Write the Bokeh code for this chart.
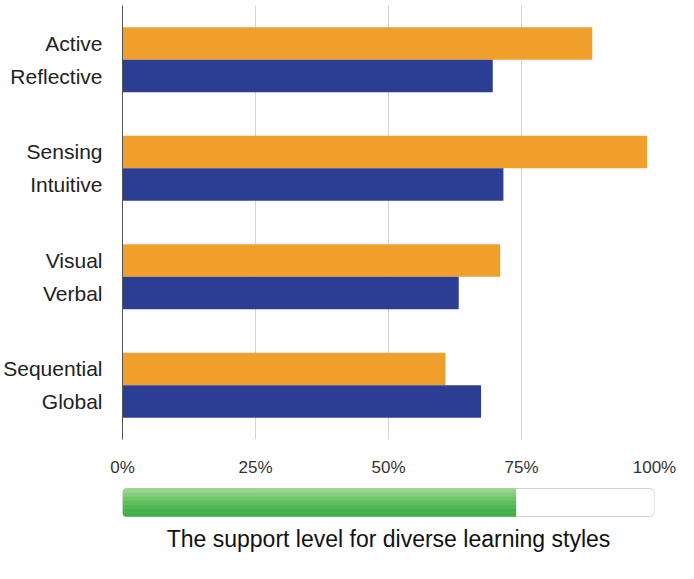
from bokeh.plotting import figure
from bokeh.models import Range1d, FixedTicker, Label
from bokeh.layouts import column
from bokeh.embed import file_html
from bokeh.resources import INLINE

# ---- data ----
pair_first_labels = ["Active", "Sensing", "Visual", "Sequential"]
pair_first_values = [88.3, 98.6, 71.0, 60.7]
pair_second_labels = ["Reflective", "Intuitive", "Verbal", "Global"]
pair_second_values = [69.6, 71.6, 63.2, 67.4]
x_ticks = [0, 25, 50, 75, 100]
x_tick_labels = ["0%", "25%", "50%", "75%", "100%"]
support_level = 74
title_text = "The support level for diverse learning styles"

ORANGE = "#F09E2C"
BLUE = "#2C3E94"
FONT = "Liberation Sans"

W = 676
LEFT, RIGHT = 119, 22
H1, TOP1, BOT1 = 479, 5, 40
H2 = 74

n = len(pair_first_labels)
bar_h = 0.3
y_first = [i + 0.5 - bar_h / 2 for i in range(n)]
y_second = [i + 0.5 + bar_h / 2 for i in range(n)]

p = figure(width=W, height=H1,
           min_border_left=LEFT, min_border_right=RIGHT,
           min_border_top=TOP1, min_border_bottom=BOT1,
           x_range=Range1d(0, 100), y_range=Range1d(n, 0),
           output_backend="svg", toolbar_location=None)
p.outline_line_color = None
p.background_fill_color = "white"
p.border_fill_color = "white"

p.hbar(y=y_first, right=pair_first_values, left=0, height=bar_h,
       fill_color=ORANGE, line_color=None)
p.hbar(y=y_second, right=pair_second_values, left=0, height=bar_h,
       fill_color=BLUE, line_color=None)

# x axis
p.xaxis.ticker = FixedTicker(ticks=x_ticks)
p.xaxis.major_label_overrides = {t: l for t, l in zip(x_ticks, x_tick_labels)}
p.xaxis.axis_line_color = None
p.xaxis.major_tick_line_color = None
p.xaxis.minor_tick_line_color = None
p.xaxis.major_label_text_font = FONT
p.xaxis.major_label_text_font_size = "17px"
p.xaxis.major_label_text_color = "#333333"
p.xaxis.major_label_standoff = 12

# y axis
yt = []
yl = {}
for i in range(n):
    yt += [y_first[i], y_second[i]]
    yl[y_first[i]] = pair_first_labels[i]
    yl[y_second[i]] = pair_second_labels[i]
p.yaxis.ticker = FixedTicker(ticks=yt)
p.yaxis.major_label_overrides = yl
p.yaxis.axis_line_color = "#555555"
p.yaxis.axis_line_width = 1
p.yaxis.major_tick_line_color = None
p.yaxis.minor_tick_line_color = None
p.yaxis.major_label_text_font = FONT
p.yaxis.major_label_text_font_size = "21px"
p.yaxis.major_label_text_color = "#222222"
p.yaxis.major_label_standoff = 14

p.xgrid.ticker = FixedTicker(ticks=x_ticks)
p.xgrid.grid_line_color = "#d4d4d4"
p.xgrid.grid_line_width = 1
p.ygrid.grid_line_color = None

# ---- progress bar + title ----
q = figure(width=W, height=H2,
           min_border_left=LEFT, min_border_right=RIGHT,
           min_border_top=0, min_border_bottom=0,
           x_range=Range1d(0, 100), y_range=Range1d(0, H2),
           x_axis_type=None, y_axis_type=None,
           output_backend="svg", toolbar_location=None)
q.outline_line_color = None
q.xgrid.visible = False
q.ygrid.visible = False
q.border_fill_color = "white"

bar_top, bar_px = H2 - 9, 28
q.hbar(y=[bar_top - bar_px / 2], left=0, right=[100], height=bar_px,
       fill_color="white", line_color="#cfcfcf", line_width=1,
       border_radius=5)
greens = ["#98d590", "#86ce7f", "#70c56b", "#5ebe5c",
          "#50b751", "#47b24b", "#41ae47"]
sh = bar_px / len(greens)
for k, c in enumerate(greens):
    if k == 0:
        br = (4, 0, 0, 0)
    elif k == len(greens) - 1:
        br = (0, 0, 0, 4)
    else:
        br = 0
    q.hbar(y=[bar_top - sh / 2 - k * sh], left=0, right=[support_level],
           height=sh + 0.3, fill_color=c, line_color=None, border_radius=br)

q.add_layout(Label(x=50, y=15, text=title_text, text_align="center",
                   text_baseline="alphabetic", text_font=FONT,
                   text_font_size="23px", text_color="#111111"))

layout = column(p, q, spacing=0)
open("out.html", "w").write(file_html(layout, INLINE))
